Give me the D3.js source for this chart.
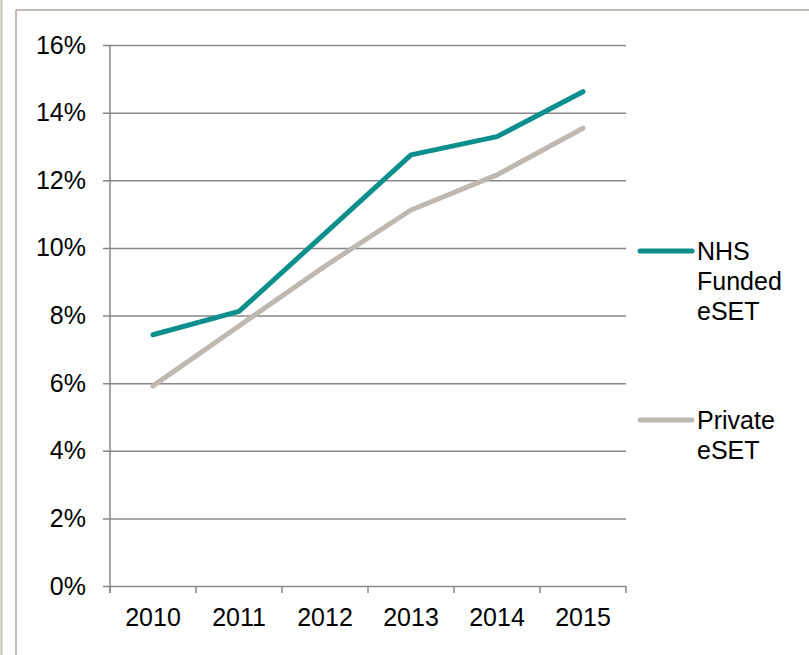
<!DOCTYPE html>
<html>
<head>
<meta charset="utf-8">
<script src="https://cdn.jsdelivr.net/npm/d3@7"></script>
<style>
  body { margin: 0; background: #fff; }
  svg { display: block; font-family: "Liberation Sans", Arial, sans-serif; }
</style>
</head>
<body>
<svg id="chart" width="809" height="655"></svg>
<script>
// Data
const years = ['2010', '2011', '2012', '2013', '2014', '2015'];
const nhsFunded = [0.0743, 0.0812, 0.1043, 0.1275, 0.1329, 0.1462];
const privateEset = [0.0592, 0.0769, 0.0946, 0.1112, 0.1216, 0.1354];
const yTicks = [0, 0.02, 0.04, 0.06, 0.08, 0.10, 0.12, 0.14, 0.16];

const series = [
  { name: ['NHS', 'Funded', 'eSET'], values: nhsFunded, color: '#0b8f8c', legendY: 251 },
  { name: ['Private', 'eSET'], values: privateEset, color: '#bfb8b0', legendY: 420 }
];

const svg = d3.select('#chart');

// Outer frame pieces
svg.append('line')
  .attr('x1', 1.5).attr('y1', 0).attr('x2', 1.5).attr('y2', 655)
  .attr('stroke', '#c4bdb5').attr('stroke-width', 2);
svg.append('line')
  .attr('x1', 16).attr('y1', 10).attr('x2', 809).attr('y2', 10)
  .attr('stroke', '#c4bdb5').attr('stroke-width', 2);
svg.append('line')
  .attr('x1', 16).attr('y1', 10).attr('x2', 16).attr('y2', 655)
  .attr('stroke', '#c4bdb5').attr('stroke-width', 2);

const plot = { left: 110, right: 626, top: 45, bottom: 586 };

const x = d3.scaleBand().domain(years).range([plot.left, plot.right]);
const y = d3.scaleLinear().domain([0, 0.16]).range([plot.bottom, plot.top]);

// Y axis with gridlines
const yAxis = svg.append('g')
  .attr('transform', `translate(${plot.left - 7},0)`)
  .call(d3.axisLeft(y)
    .tickValues(yTicks)
    .tickFormat(d3.format('.0%'))
    .tickSizeInner(-(plot.right - plot.left + 7))
    .tickSizeOuter(0)
    .tickPadding(17));
yAxis.select('.domain').remove();
yAxis.selectAll('.tick line').attr('stroke', '#878787').attr('stroke-width', 1.5);
yAxis.selectAll('.tick text')
  .attr('font-size', 25).attr('fill', '#000')
  .attr('font-family', '"Liberation Sans", Arial, sans-serif');

// Vertical axis line
svg.append('line')
  .attr('x1', plot.left).attr('x2', plot.left)
  .attr('y1', plot.top).attr('y2', plot.bottom + 7)
  .attr('stroke', '#878787').attr('stroke-width', 1.5);

// X axis labels
const xAxis = svg.append('g')
  .attr('transform', `translate(0,${plot.bottom})`)
  .call(d3.axisBottom(x).tickSize(0).tickPadding(22));
xAxis.select('.domain').remove();
xAxis.selectAll('.tick text')
  .attr('font-size', 25).attr('fill', '#000')
  .attr('font-family', '"Liberation Sans", Arial, sans-serif');

// X tick marks at band boundaries
const boundaries = years.map(d => x(d)).concat([x(years[years.length - 1]) + x.step()]);
svg.append('g').selectAll('line')
  .data(boundaries)
  .join('line')
  .attr('x1', d => d).attr('x2', d => d)
  .attr('y1', plot.bottom).attr('y2', plot.bottom + 7)
  .attr('stroke', '#878787').attr('stroke-width', 1.5);

// Lines
const line = d3.line()
  .x((d, i) => x(years[i]) + x.bandwidth() / 2)
  .y(d => y(d));

svg.append('g').selectAll('path')
  .data(series.slice().reverse())
  .join('path')
  .attr('d', d => line(d.values))
  .attr('fill', 'none')
  .attr('stroke', d => d.color)
  .attr('stroke-width', 5)
  .attr('stroke-linecap', 'round')
  .attr('stroke-linejoin', 'round');

// Legend
const legend = svg.append('g').selectAll('g')
  .data(series)
  .join('g')
  .attr('transform', d => `translate(0,${d.legendY})`);

legend.append('line')
  .attr('x1', 640).attr('x2', 692)
  .attr('y1', 0).attr('y2', 0)
  .attr('stroke', d => d.color)
  .attr('stroke-width', 5)
  .attr('stroke-linecap', 'round');

legend.append('text')
  .attr('x', 697)
  .attr('font-size', 25)
  .attr('fill', '#000')
  .selectAll('tspan')
  .data(d => d.name)
  .join('tspan')
  .attr('x', 697)
  .attr('y', (d, i) => 9 + i * 30)
  .text(d => d);
</script>
</body>
</html>
